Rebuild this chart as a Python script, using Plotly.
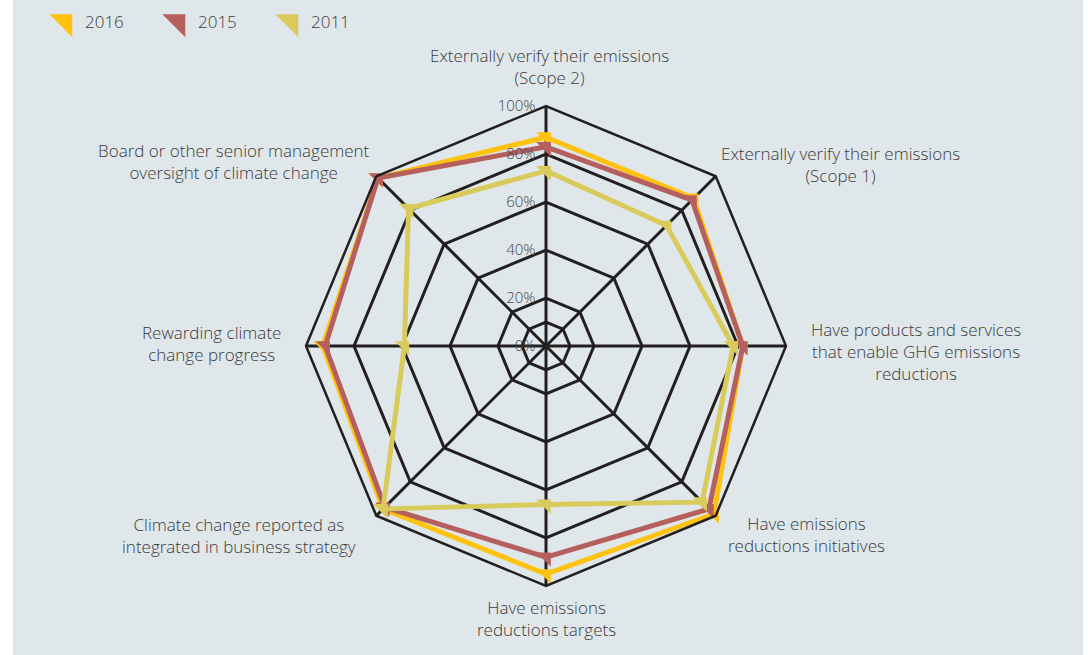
import plotly.graph_objects as go

categories = [
    "Externally verify their emissions<br>(Scope 2)",
    "Externally verify their emissions<br>(Scope 1)",
    "Have products and services<br>that enable GHG emissions<br>reductions",
    "Have emissions<br>reductions initiatives",
    "Have emissions<br>reductions targets",
    "Climate change reported as<br>integrated in business strategy",
    "Rewarding climate<br>change progress",
    "Board or other senior management<br>oversight of climate change",
]
series_names = ["2016", "2015", "2011"]
values_2016 = [87, 87, 82, 99, 95, 96, 93, 99]
values_2015 = [83, 86, 82, 96, 88, 95, 92, 99]
values_2011 = [73, 71, 78, 92, 66, 96, 59, 81]
tick_values = [0, 10, 20, 40, 60, 80, 100]
tick_labels = ["0%", "", "20%", "40%", "60%", "80%", "100%"]

colors = {"2016": "#ffc20e", "2015": "#b5605f", "2011": "#d8cb5c"}
W, H = 1088, 655
BG = "#e0e7ea"
GRID = "#231f20"
FONT = "Open Sans, Liberation Sans, Arial, sans-serif"
TXT = "#3a3a3a"

def px(x, y):
    return x / W, 1 - y / H

fig = go.Figure()
series = {"2016": values_2016, "2015": values_2015, "2011": values_2011}
for name in series_names:
    vals = series[name]
    fig.add_trace(go.Scatterpolar(
        r=vals + vals[:1], theta=categories + categories[:1],
        mode="lines+markers", name=name, showlegend=False,
        line=dict(color=colors[name], width=5),
        marker=dict(symbol="triangle-ne", size=16, color=colors[name]),
    ))
for name in series_names:
    fig.add_trace(go.Scatterpolar(
        r=[None], theta=[categories[0]], mode="markers", name=name,
        marker=dict(symbol="triangle-ne", size=16, color=colors[name],
                    line=dict(color=colors[name], width=5)),
        showlegend=True,
    ))

fig.add_shape(type="rect", xref="paper", yref="paper", x0=13 / W, x1=1083 / W,
              y0=0, y1=1, fillcolor=BG, line=dict(width=0), layer="below")

label_pos = [(549, 67), (840, 164), (916, 351), (806, 534),
             (546, 618), (239, 535), (211, 343), (234, 161)]
for text, (x, y) in zip(categories, label_pos):
    ax, ay = px(x, y)
    fig.add_annotation(text=text, x=ax, y=ay, xref="paper", yref="paper",
                       showarrow=False, xanchor="center", yanchor="middle",
                       align="center",
                       font=dict(family=FONT, size=17, color=TXT, weight=300))

nb = "\u00a0\u00a0"
dx0, dy0 = px(306, 586)
dx1, dy1 = px(786, 106)
fig.update_layout(
    width=W, height=H,
    margin=dict(l=0, r=0, t=0, b=0),
    paper_bgcolor="white",
    font=dict(family=FONT, color=TXT),
    legend=dict(orientation="h", x=45 / W, y=1 - 4 / H, xanchor="left", yanchor="top",
                font=dict(family=FONT, size=17, color=TXT, weight=300),
                entrywidth=68, entrywidthmode="pixels", bgcolor="rgba(0,0,0,0)"),
    polar=dict(
        domain=dict(x=[dx0, dx1], y=[dy0, dy1]),
        bgcolor="rgba(0,0,0,0)",
        gridshape="linear",
        radialaxis=dict(range=[0, 100], tickvals=tick_values,
                        ticktext=[t + nb if t else t for t in tick_labels],
                        angle=90, tickangle=90, side="counterclockwise",
                        showline=False, ticks="", gridcolor=GRID, gridwidth=2.5,
                        tickfont=dict(family=FONT, size=15, color="#444444", weight=300)),
        angularaxis=dict(rotation=90, direction="clockwise", showticklabels=False,
                         ticks="", gridcolor=GRID, gridwidth=2.5,
                         linecolor=GRID, linewidth=2.5),
    ),
)
fig.write_html("out.html", config={"displayModeBar": False},
               post_script="document.body.style.margin='0px';")
